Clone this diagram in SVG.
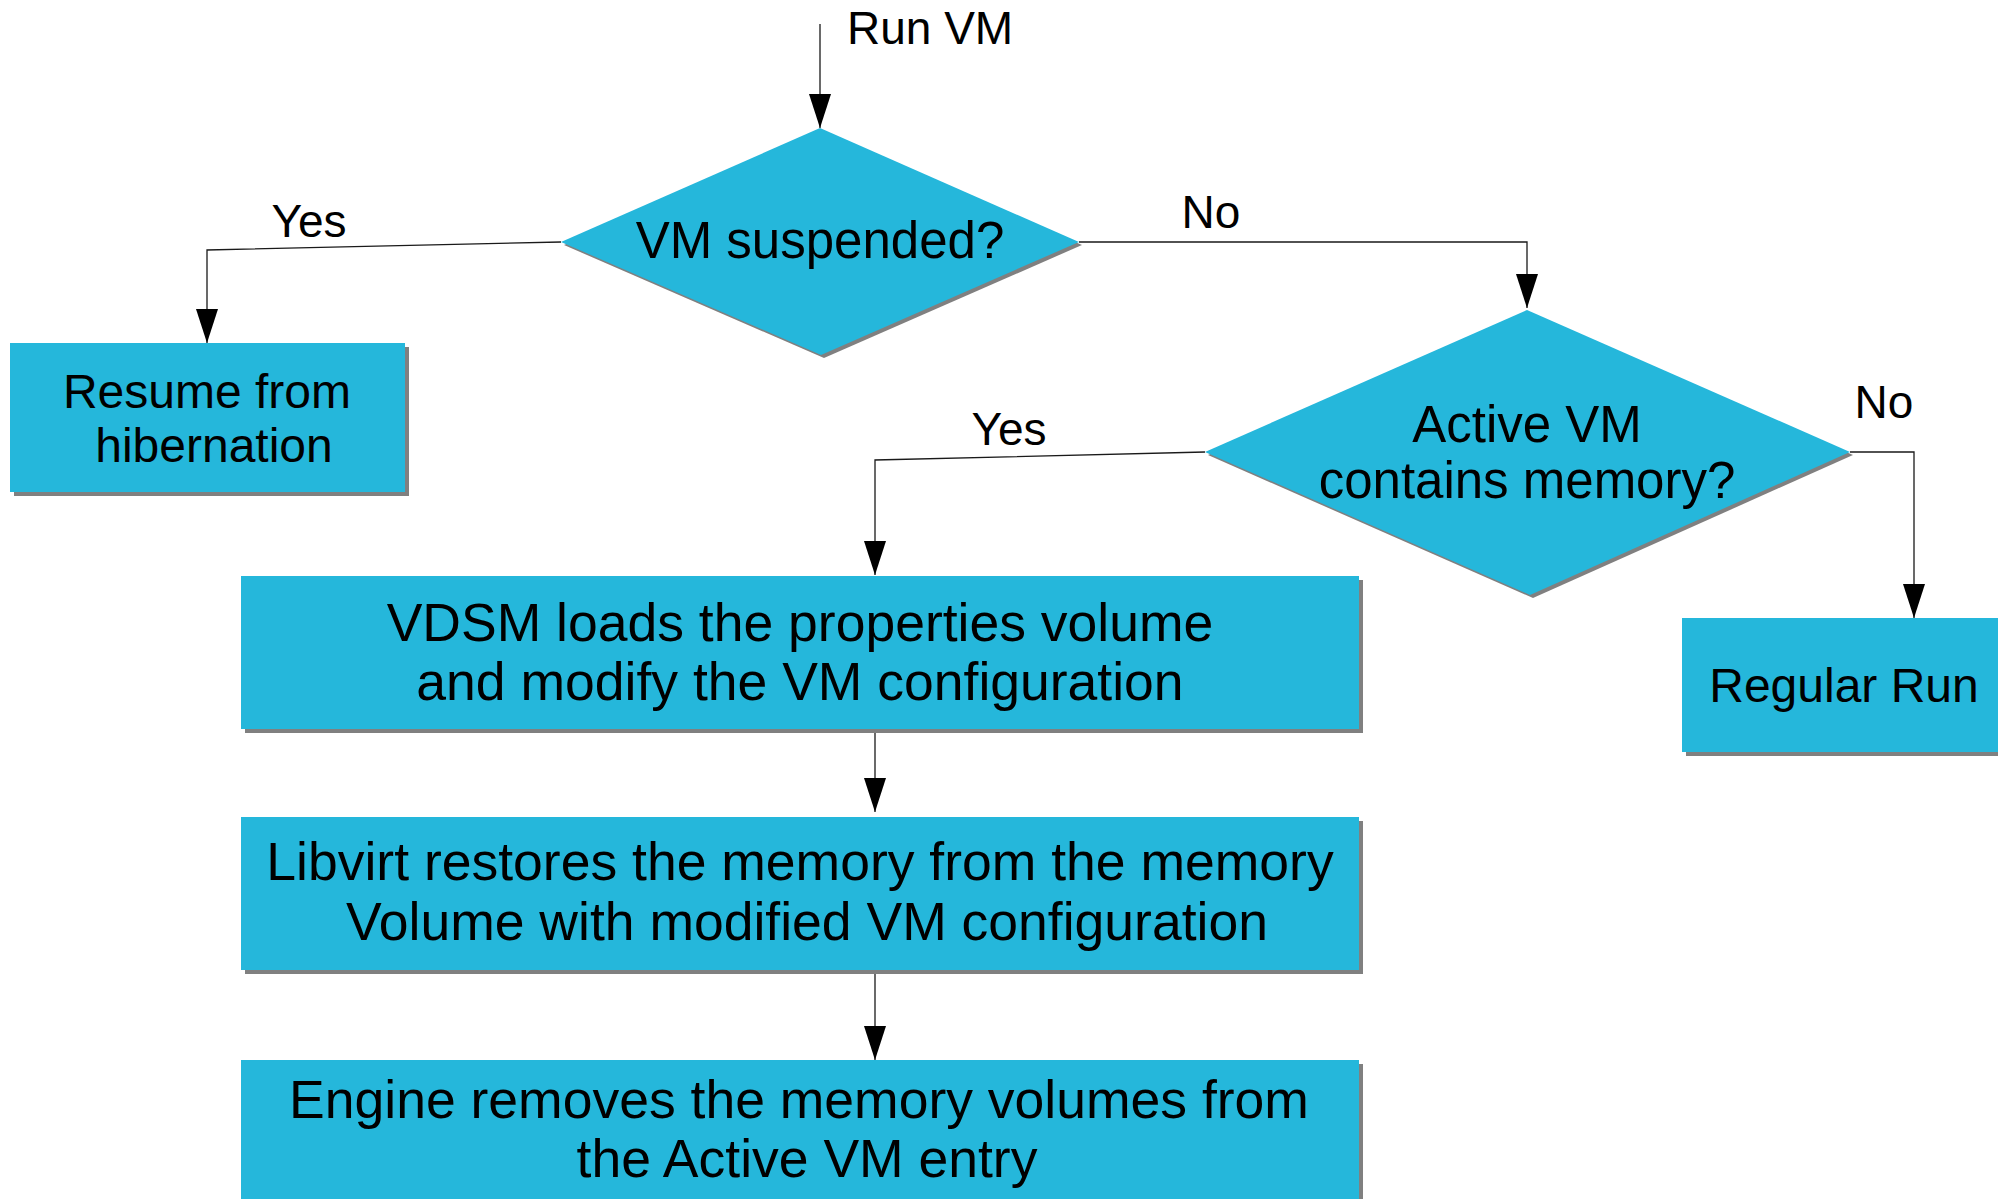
<svg xmlns="http://www.w3.org/2000/svg" width="1998" height="1199" viewBox="0 0 1998 1199">
<defs>
<style>
.shape{fill:#25b7db;}
.shadow{fill:#808080;}
.t{font-family:"Liberation Sans",Arial,sans-serif;fill:#000;text-anchor:middle;}
.lbl{font-family:"Liberation Sans",Arial,sans-serif;fill:#000;font-size:46px;}
.c{fill:none;stroke:#1a1a1a;stroke-width:1.3;}
</style>
<marker id="arr" markerUnits="userSpaceOnUse" markerWidth="34" markerHeight="22" refX="34" refY="11" orient="auto">
<path d="M0,0 L34,11 L0,22 Z" fill="#000"/>
</marker>
</defs>
<rect width="1998" height="1199" fill="#fff"/>

<g id="connectors">
<path class="c" d="M820,24 L820,128" marker-end="url(#arr)"/>
<path class="c" d="M561,242 L207,250 L207,343" marker-end="url(#arr)"/>
<path class="c" d="M1079,242 L1527,242 L1527,308" marker-end="url(#arr)"/>
<path class="c" d="M1205,452 L875,460 L875,575" marker-end="url(#arr)"/>
<path class="c" d="M1850,452 L1914,452 L1914,618" marker-end="url(#arr)"/>
<path class="c" d="M875,729 L875,812" marker-end="url(#arr)"/>
<path class="c" d="M875,970 L875,1060" marker-end="url(#arr)"/>
<text class="lbl" x="847" y="44" font-size="49">Run VM</text>
<text class="lbl" x="309" y="237" text-anchor="middle">Yes</text>
<text class="lbl" x="1211" y="228" text-anchor="middle">No</text>
<text class="lbl" x="1009" y="445" text-anchor="middle">Yes</text>
<text class="lbl" x="1884" y="418" text-anchor="middle">No</text>
</g>

<g id="vm-suspended">
<polygon class="shadow" points="823,131 1082,245 824,358 564,245"/>
<polygon class="shape" points="820,128 1079,242 821,355 561,242"/>
<text class="t" x="820" y="258" font-size="51">VM suspended?</text>
</g>

<g id="resume-hibernation">
<rect class="shadow" x="14" y="347" width="395" height="149"/>
<rect class="shape" x="10" y="343" width="395" height="149"/>
<text class="t" font-size="48"><tspan x="207" y="408">Resume from</tspan><tspan x="214" y="462">hibernation</tspan></text>
</g>

<g id="active-vm-memory">
<polygon class="shadow" points="1530,313 1853,455 1533,598 1208,455"/>
<polygon class="shape" points="1527,310 1850,452 1530,595 1205,452"/>
<text class="t" font-size="51"><tspan x="1527" y="442">Active VM</tspan><tspan x="1527" y="498">contains memory?</tspan></text>
</g>

<g id="regular-run">
<rect class="shadow" x="1686" y="622" width="330" height="134"/>
<rect class="shape" x="1682" y="618" width="330" height="134"/>
<text class="t" x="1844" y="702" font-size="48">Regular Run</text>
</g>

<g id="vdsm-loads">
<rect class="shadow" x="245" y="580" width="1118" height="153"/>
<rect class="shape" x="241" y="576" width="1118" height="153"/>
<text class="t" font-size="53.5"><tspan x="800" y="641">VDSM loads the properties volume</tspan><tspan x="800" y="700">and modify the VM configuration</tspan></text>
</g>

<g id="libvirt-restores">
<rect class="shadow" x="245" y="821" width="1118" height="153"/>
<rect class="shape" x="241" y="817" width="1118" height="153"/>
<text class="t" font-size="53.5"><tspan x="800" y="880">Libvirt restores the memory from the memory</tspan><tspan x="807" y="940">Volume with modified VM configuration</tspan></text>
</g>

<g id="engine-removes">
<rect class="shadow" x="245" y="1064" width="1118" height="160"/>
<rect class="shape" x="241" y="1060" width="1118" height="160"/>
<text class="t" font-size="53.5"><tspan x="799" y="1118">Engine removes the memory volumes from</tspan><tspan x="807" y="1177">the Active VM entry</tspan></text>
</g>
</svg>
